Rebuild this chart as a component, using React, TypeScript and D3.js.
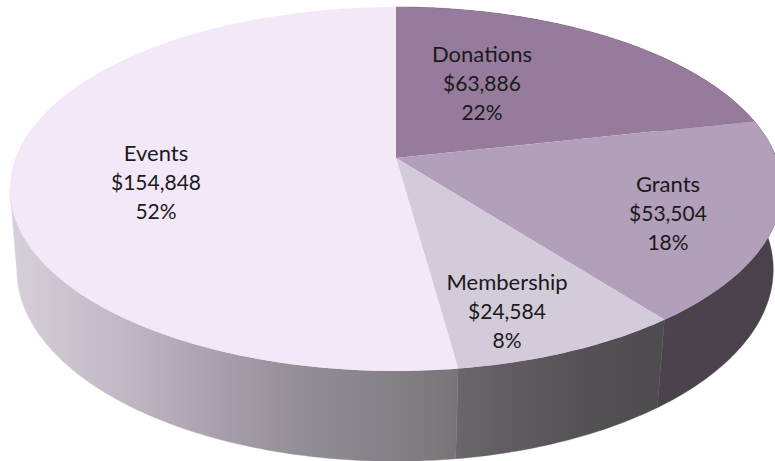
import * as d3 from 'd3';

const categories = ['Donations', 'Grants', 'Membership', 'Events'];
const amounts = [63886, 53504, 24584, 154848];
const percents = ['22%', '18%', '8%', '52%'];

const topColors = ['#967b9d', '#b29fb9', '#d3cbda', '#f3e8f7'];
// wall shading of each slice, left to right
const wallColors = [
  ['#4a414d', '#4a414d'],
  ['#4b424e', '#4a414d'],
  ['#6b666c', '#565156', '#504b50'],
  ['#d6ced9', '#bfb5c3', '#a59ca9', '#948e96', '#857f86', '#79747a'],
];
const wallStops = [
  [0, 1],
  [0, 1],
  [0, 0.6, 1],
  [0, 0.26, 0.49, 0.64, 0.86, 1],
];

// where each label block sits (centre x, first baseline)
const labelSpots = [
  [482, 62],
  [668, 192],
  [507, 290],
  [156, 161],
];
const lineGap = 28.8;

const width = 775;
const height = 461;

// perspective view of a flat disc, fitted to the picture
const apex = { x: 396, y: 158 };
const spanX = 380.4;
const spanY = 176.7;
const tilt = 0.1703;
const drop = 81;
const dropShrink = 0.02;
const dropShift = -1;

function project(angle: number, z: number): [number, number] {
  const u = Math.sin(angle);
  const v = Math.cos(angle);
  const w = 1 + tilt * v + dropShrink * z;
  return [apex.x + (spanX * u) / w + dropShift * z, apex.y + (-spanY * v + drop * z) / w];
}

function rim(a0: number, a1: number, z: number) {
  const steps = Math.max(2, Math.ceil((a1 - a0) * 60));
  return d3.range(steps + 1).map((i) => project(a0 + ((a1 - a0) * i) / steps, z));
}

// the wall stops where the outline turns round on the left
const leftTurn = 2 * Math.PI - Math.acos(-tilt);

const line = d3.line();

const App = () => {
  const arcs = d3.pie<number>().sort(null)(amounts);
  const money = d3.format('$,');

  return (
    <svg
      width={width}
      height={height}
      style={{ position: 'fixed', left: 0, top: 0, display: 'block', background: '#fff' }}
    >
      <defs>
        {arcs.map((a, i) => {
          const end = Math.min(a.endAngle, leftTurn);
          const xs = rim(a.startAngle, end, 1).map((p) => p[0]);
          return (
            <linearGradient
              key={i}
              id={'wall' + i}
              gradientUnits="userSpaceOnUse"
              x1={d3.min(xs)}
              x2={d3.max(xs)}
              y1={0}
              y2={0}
            >
              {wallColors[i].map((c, j) => (
                <stop key={j} offset={wallStops[i][j]} stopColor={c} />
              ))}
            </linearGradient>
          );
        })}
      </defs>

      {arcs.map((a, i) => {
        const end = Math.min(a.endAngle, leftTurn);
        const pts = [...rim(a.startAngle, end, 0), ...rim(a.startAngle, end, 1).reverse()];
        return <path key={i} d={line(pts) + 'Z'} fill={`url(#wall${i})`} stroke={`url(#wall${i})`} strokeWidth={0.4} />;
      })}

      {arcs.map((a, i) => {
        const pts: [number, number][] = [[apex.x, apex.y], ...rim(a.startAngle, a.endAngle, 0)];
        return <path key={i} d={line(pts) + 'Z'} fill={topColors[i]} />;
      })}

      {categories.map((c, i) => (
        <text key={c} textAnchor="middle" fontFamily="Lato, 'Open Sans', sans-serif" fontSize={21} fill="#1a1a1a">
          {[c, money(amounts[i]), percents[i]].map((t, j) => (
            <tspan key={j} x={labelSpots[i][0]} y={labelSpots[i][1] + j * lineGap} fontSize={j === 0 ? 22 : 21}>
              {t}
            </tspan>
          ))}
        </text>
      ))}
    </svg>
  );
};

export default App;
